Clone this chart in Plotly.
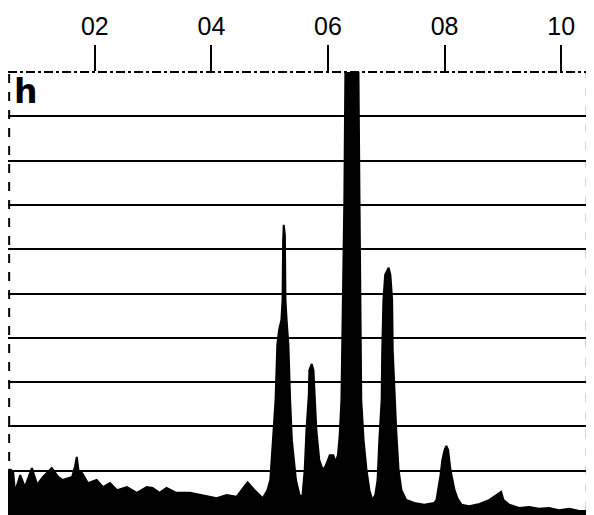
import plotly.graph_objects as go

# Spectrum profile (x in axis units, y in grid units 0..10)
spec_x = [0.051, 0.053, 0.056, 0.060, 0.063, 0.072, 0.080, 0.092, 0.101, 0.111,
          0.126, 0.137, 0.145, 0.161, 0.166, 0.169, 0.172, 0.178, 0.188, 0.203,
          0.214, 0.226, 0.238, 0.255, 0.272, 0.289, 0.299, 0.311, 0.323, 0.340,
          0.363, 0.385, 0.409, 0.426, 0.443, 0.462, 0.474, 0.488, 0.496,
          0.501, 0.506, 0.510, 0.513, 0.516, 0.520, 0.522, 0.523, 0.524, 0.526,
          0.527, 0.529, 0.530, 0.532, 0.535, 0.538, 0.545, 0.551,
          0.556, 0.560, 0.563, 0.567, 0.568, 0.572, 0.575, 0.577, 0.580, 0.585,
          0.591, 0.596, 0.603, 0.609, 0.613, 0.617, 0.620, 0.623, 0.626, 0.628,
          0.630, 0.652, 0.654, 0.656, 0.657, 0.661, 0.666, 0.671, 0.676, 0.681,
          0.685, 0.688, 0.692, 0.693, 0.695, 0.698, 0.704, 0.707, 0.710, 0.711,
          0.714, 0.717, 0.721, 0.726, 0.734, 0.748, 0.765, 0.782, 0.786, 0.789,
          0.793, 0.796, 0.800, 0.803, 0.806, 0.810, 0.813, 0.817, 0.822, 0.829,
          0.842, 0.860, 0.877, 0.889, 0.897, 0.901, 0.911, 0.928, 0.945, 0.962,
          0.979, 0.996, 1.014, 1.031, 1.048]
spec_y = [0.79, 1.02, 1.02, 0.95, 0.52, 0.90, 0.63, 1.06, 0.68, 0.86,
          1.06, 0.86, 0.79, 0.86, 1.10, 1.31, 1.00, 0.95, 0.72, 0.79,
          0.63, 0.72, 0.56, 0.63, 0.50, 0.63, 0.61, 0.50, 0.61, 0.50,
          0.50, 0.45, 0.38, 0.45, 0.41, 0.74, 0.56, 0.38, 0.56,
          0.79, 1.69, 2.60, 3.84, 4.18, 4.40, 4.85, 6.21, 6.55, 6.32,
          4.85, 4.40, 4.18, 3.84, 2.60, 1.69, 0.79, 0.45,
          0.41, 1.02, 1.92, 2.71, 3.27, 3.41, 3.27, 2.71, 1.92, 1.24,
          1.02, 1.11, 1.35, 1.35, 1.20, 1.35, 1.80, 2.60, 4.85, 7.11,
          10.4, 10.4, 7.11, 4.85, 2.60, 1.69, 1.02, 0.56, 0.34, 0.45,
          0.79, 1.69, 2.60, 3.72, 4.85, 5.42, 5.58, 5.42, 4.85, 3.72,
          2.60, 1.92, 1.02, 0.56, 0.34, 0.27, 0.23, 0.27, 0.34, 0.56,
          0.90, 1.24, 1.47, 1.56, 1.47, 1.02, 0.79, 0.56, 0.38, 0.23,
          0.20, 0.25, 0.34, 0.45, 0.52, 0.34, 0.23, 0.16, 0.18, 0.14,
          0.16, 0.11, 0.14, 0.09, 0.09]

tick_vals = [0.2, 0.4, 0.6, 0.8, 1.0]
tick_text = ["02", "04", "06", "08", "10"]
grid_vals = [1, 2, 3, 4, 5, 6, 7, 8, 9]
panel_label = "h"

fig = go.Figure()
fig.add_trace(go.Scatter(
    x=spec_x, y=spec_y, mode="lines", fill="tozeroy",
    fillcolor="black", line=dict(color="black", width=2),
    hoverinfo="skip", showlegend=False))

fig.update_layout(
    width=586, height=507,
    margin=dict(l=0, r=6, t=64, b=0, autoexpand=False),
    paper_bgcolor="white", plot_bgcolor="white",
    font=dict(family="Liberation Sans", color="black"),
    xaxis=dict(range=[0.051, 1.046], side="top", tickvals=tick_vals,
               ticktext=tick_text, ticks="outside", ticklen=26, tickwidth=2,
               tickcolor="black", showgrid=False, zeroline=False,
               showline=False, automargin=False,
               tickfont=dict(size=25, color="black")),
    yaxis=dict(range=[0, 10], tickvals=grid_vals, showticklabels=False,
               showgrid=True, gridcolor="black", gridwidth=2,
               zeroline=False, showline=False, ticks="", automargin=False),
    shapes=[
        dict(type="line", xref="paper", yref="paper", x0=0, x1=1, y0=1, y1=1,
             line=dict(color="black", width=2, dash="dashdot"), layer="above"),
        dict(type="line", xref="paper", yref="paper", x0=0.002, x1=0.002, y0=0, y1=1,
             line=dict(color="black", width=2, dash="dash"), layer="above"),
        dict(type="line", xref="paper", yref="paper", x0=0.998, x1=0.998, y0=0.01, y1=1,
             line=dict(color="black", width=2, dash="dash"), layer="above"),
    ],
    annotations=[dict(text="<b>" + panel_label + "</b>", xref="paper", yref="paper",
                      x=0, y=1, xanchor="left", yanchor="top", xshift=4, yshift=2,
                      showarrow=False,
                      font=dict(family="DejaVu Sans", size=33, color="black"))],
)

fig.write_html("out.html")
